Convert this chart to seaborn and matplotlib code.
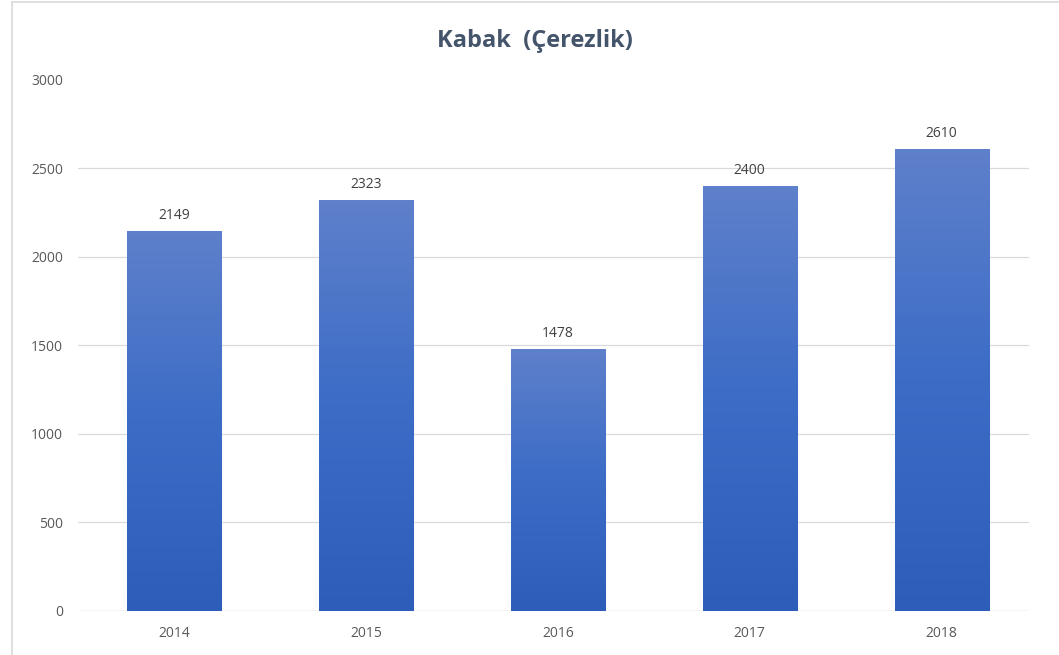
import numpy as np
import pandas as pd
import matplotlib
matplotlib.use("Agg")
import matplotlib.pyplot as plt
import seaborn as sns
from matplotlib.colors import LinearSegmentedColormap
from matplotlib.lines import Line2D

years = ["2014", "2015", "2016", "2017", "2018"]
values = [2149, 2323, 1478, 2400, 2610]
title = "Kabak  (Çerezlik)"
yticks = [0, 500, 1000, 1500, 2000, 2500, 3000]

sns.set_theme(style="white")
plt.rcParams['font.family'] = ['Open Sans', 'DejaVu Sans']

df = pd.DataFrame({"year": years, "value": values})

fig = plt.figure(figsize=(10.59, 6.55), dpi=100)
ax = fig.add_axes([0.0737, 0.0672, 0.906, 0.8107])

sns.barplot(data=df, x="year", y="value", color="#4472C4", width=0.49,
            ax=ax, saturation=1)

ax.set_ylim(0, 3000)
ax.set_xlim(-0.5, 4.5)
ax.set_yticks(yticks)
ax.set_yticklabels([str(t) for t in yticks])

cmap = LinearSegmentedColormap.from_list("g", ["#2D5DB9", "#3B6CC6", "#5F80CB"])
grad = np.linspace(0, 1, 256).reshape(-1, 1)
for p in ax.patches:
    x0, y0 = p.get_x(), p.get_y()
    w, h = p.get_width(), p.get_height()
    p.set_facecolor("none")
    p.set_edgecolor("none")
    im = ax.imshow(grad, cmap=cmap, aspect="auto", origin="lower",
                   extent=[x0, x0 + w, y0, y0 + h], zorder=2)
    im.set_clip_path(p)
    ax.text(x0 + w / 2, y0 + h + 45, f"{int(h)}", ha="center", va="bottom",
            fontsize=10, color="#404040", zorder=3)

for t in yticks[1:-1]:
    ax.axhline(t, xmax=0.99, color="#D9D9D9", lw=0.9, zorder=0)
ax.axhline(0, xmax=0.99, color="#D9D9D9", lw=1.0, zorder=1)

for s in ax.spines.values():
    s.set_visible(False)
ax.set_xlabel("")
ax.set_ylabel("")
ax.tick_params(axis="both", length=0, colors="#595959", labelsize=10)
ax.tick_params(axis="y", pad=11)
ax.tick_params(axis="x", pad=11)

fig.text(0.505, 0.938, title, ha="center", va="center", fontsize=17,
         fontweight="bold", color="#44546A")

fig.add_artist(Line2D([12/1059, 12/1059], [0, 653/655], color="#D9D9D9", lw=1.2,
                      transform=fig.transFigure))
fig.add_artist(Line2D([12/1059, 1], [653/655, 653/655], color="#D9D9D9", lw=1.2,
                      transform=fig.transFigure))

fig.savefig("out.png", dpi=100, facecolor="white")
